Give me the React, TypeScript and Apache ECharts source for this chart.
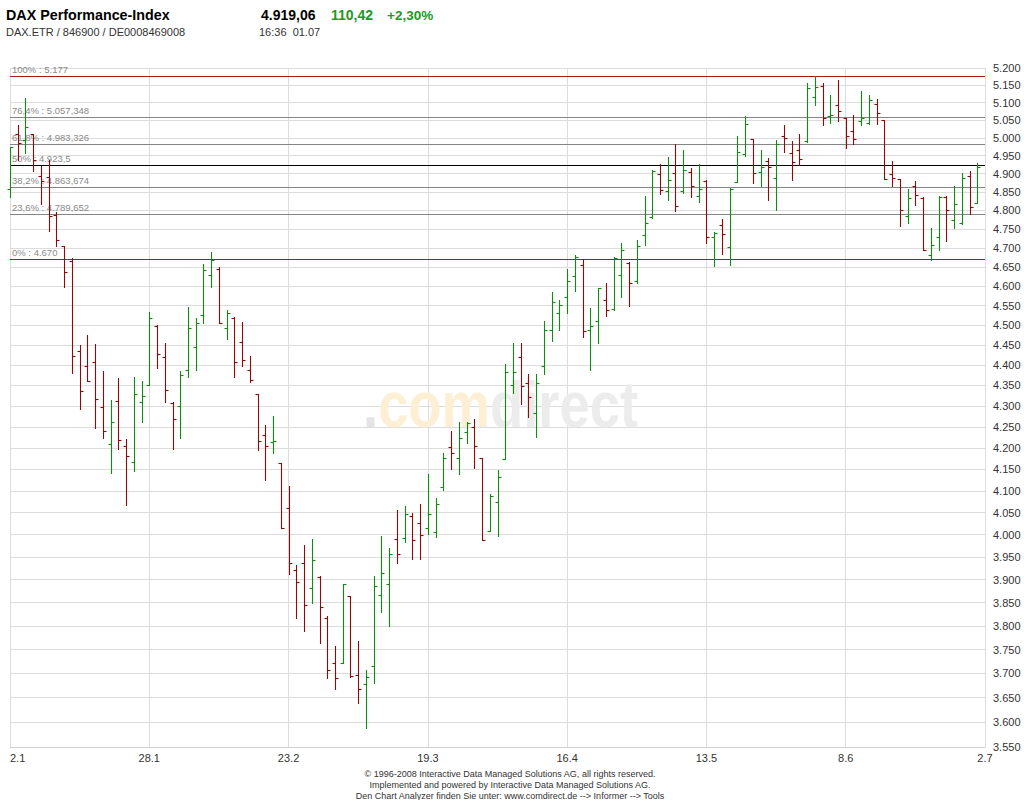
import React, { useEffect, useRef } from "react";
import * as echarts from "echarts";

const FONT = "Arial, 'Liberation Sans', sans-serif";
const GREEN = "#138a13";
const RED = "#8b0a0a";

// Xetra trading days 02.01.2009 - 02.07.2009 (holidays: Karfreitag, Ostermontag, 1. Mai)
const holidays = ["10.4", "13.4", "1.5"];
const dates: string[] = [];
for (let d = new Date(2009, 0, 2); d <= new Date(2009, 6, 2); d.setDate(d.getDate() + 1)) {
  const wd = d.getDay();
  const key = `${d.getDate()}.${d.getMonth() + 1}`;
  if (wd === 0 || wd === 6 || holidays.includes(key)) continue;
  dates.push(key);
}

// daily OHLC (last trading day 02.07 has no bar)
const opens = [
  4858, 5010, 4994, 5010, 4895, 4891, 4788, 4705, 4665, 4436,
  4397, 4409, 4298, 4210, 4313, 4205, 4167, 4310, 4350, 4497,
  4421, 4308, 4301, 4389, 4444, 4526, 4630, 4644, 4492, 4518,
  4458, 4387, 4329, 4231, 4213, 4165, 4060, 3922, 3937, 3882,
  3907, 3817, 3722, 3722, 3865, 3697, 3678, 3715, 3867, 3891,
  3990, 3992, 4042, 4026, 4014, 4007, 4108, 4203, 4176, 4238,
  4250, 4176, 4008, 4074, 4173, 4352, 4421, 4357, 4284, 4397,
  4488, 4530, 4571, 4627, 4656, 4488, 4510, 4565, 4540, 4628,
  4660, 4612, 4733, 4783, 4898, 4853, 4902, 4853, 4906, 4838,
  4880, 4730, 4761, 4701, 4876, 4954, 4996, 4905, 4935, 4889,
  5005, 4957, 4965, 4990, 5117, 5149, 5062, 5093, 5056, 5018,
  5047, 5041, 5097, 5050, 4900, 4886, 4785, 4866, 4834, 4682,
  4730, 4837, 4775, 4767, 4894, 4820,
];
const highs = [
  4975, 5037, 5112, 5012, 4920, 4937, 4795, 4705, 4672, 4450,
  4475, 4452, 4385, 4315, 4368, 4220, 4370, 4360, 4533, 4500,
  4455, 4311, 4385, 4547, 4518, 4657, 4689, 4649, 4538, 4520,
  4507, 4423, 4330, 4254, 4276, 4165, 4111, 3933, 3978, 3990,
  3909, 3821, 3757, 3891, 3865, 3769, 3707, 3909, 3996, 3970,
  4055, 4065, 4050, 4069, 4139, 4083, 4188, 4240, 4261, 4262,
  4270, 4176, 4092, 4148, 4404, 4454, 4456, 4378, 4378, 4511,
  4586, 4563, 4644, 4682, 4670, 4543, 4594, 4607, 4677, 4714,
  4662, 4722, 4838, 4910, 4927, 4945, 4982, 4966, 4917, 4928,
  4882, 4743, 4778, 4860, 5006, 5062, 4996, 4966, 4943, 4994,
  5037, 4990, 5011, 5156, 5177, 5156, 5122, 5165, 5056, 5065,
  5134, 5122, 5111, 5050, 4935, 4886, 4857, 4880, 4836, 4752,
  4840, 4838, 4866, 4901, 4907, 4929,
];
const lows = [
  4837, 4937, 4958, 4908, 4818, 4744, 4705, 4597, 4380, 4294,
  4360, 4248, 4224, 4141, 4197, 4068, 4145, 4262, 4350, 4393,
  4311, 4197, 4224, 4371, 4387, 4505, 4597, 4505, 4464, 4372,
  4397, 4358, 4195, 4124, 4188, 4015, 3912, 3816, 3790, 3849,
  3764, 3691, 3667, 3721, 3693, 3639, 3588, 3681, 3829, 3800,
  3937, 3983, 3946, 3946, 4002, 3994, 4101, 4150, 4138, 4211,
  4153, 3989, 4008, 3997, 4173, 4332, 4305, 4274, 4227, 4377,
  4461, 4487, 4531, 4588, 4469, 4389, 4456, 4523, 4538, 4571,
  4548, 4608, 4707, 4780, 4844, 4829, 4799, 4848, 4835, 4824,
  4714, 4651, 4684, 4654, 4876, 4950, 4874, 4867, 4828, 4801,
  4961, 4883, 4924, 4988, 5093, 5035, 5043, 5046, 4970, 4983,
  5037, 5039, 5040, 4885, 4866, 4759, 4767, 4814, 4693, 4669,
  4695, 4719, 4752, 4763, 4789, 4820,
];
const closes = [
  4973, 4984, 5030, 4937, 4880, 4784, 4720, 4637, 4423, 4337,
  4362, 4316, 4241, 4261, 4219, 4180, 4329, 4325, 4518, 4428,
  4339, 4270, 4376, 4492, 4505, 4643, 4668, 4505, 4530, 4407,
  4413, 4364, 4217, 4204, 4217, 4015, 3937, 3896, 3846, 3943,
  3841, 3708, 3690, 3891, 3694, 3667, 3693, 3887, 3915, 3957,
  3956, 4046, 3989, 3999, 4046, 4070, 4177, 4188, 4223, 4259,
  4205, 3989, 4087, 4133, 4383, 4384, 4349, 4322, 4356, 4489,
  4560, 4551, 4613, 4677, 4485, 4499, 4594, 4538, 4673, 4695,
  4608, 4704, 4765, 4907, 4855, 4882, 4811, 4910, 4867, 4858,
  4728, 4739, 4737, 4858, 4959, 5039, 4902, 4918, 4918, 4982,
  4998, 4932, 4941, 5142, 5145, 5057, 5065, 5075, 5005, 4997,
  5055, 5108, 5069, 4885, 4888, 4800, 4834, 4843, 4694, 4708,
  4836, 4800, 4817, 4887, 4809, 4919,
];

// price axis (logarithmic), labels every 50 points
const yMin = 3550;
const yMax = 5200;
const yTicks: number[] = [];
for (let v = yMin; v <= yMax; v += 50) yTicks.push(v);

// Fibonacci retracement levels
const fibValues = [5177, 5057.348, 4983.326, 4923.5, 4863.674, 4789.652, 4670];
const fibLabels = [
  "100% : 5.177",
  "76,4% : 5.057,348",
  "61,8% : 4.983,326",
  "50% : 4.923,5",
  "38,2% : 4.863,674",
  "23,6% : 4.789,652",
  "0% : 4.670",
];
const fibColors = ["#b01818", "#858585", "#858585", "#000000", "#858585", "#858585", "#b01818"];

const thousands = (n: number) => String(n).replace(/\B(?=(\d{3})+(?!\d))/g, ".");

const App = () => {
  const chartRef = useRef<HTMLDivElement>(null);

  useEffect(() => {
    if (!chartRef.current) return undefined;
    const chart = echarts.init(chartRef.current, undefined, { renderer: "svg" });

    const data = opens.map((o, i) => [
      i,
      Math.log(o),
      Math.log(highs[i]),
      Math.log(lows[i]),
      Math.log(closes[i]),
    ]);
    const fibData = fibValues.map((v, k) => [0, Math.log(v), k]);
    const lnTicks = yTicks.map((v) => Math.log(v));

    const options: any = {
      animation: false,
      backgroundColor: "#ffffff",
      textStyle: { fontFamily: FONT },
      grid: { left: 10, right: 39, top: 68, bottom: 53, outerBoundsMode: "none" },
      xAxis: {
        type: "category",
        data: dates,
        boundaryGap: false,
        axisLine: { lineStyle: { color: "#cfcfcf" } },
        axisTick: { show: false },
        axisLabel: {
          interval: 17,
          color: "#333",
          fontSize: 11,
          fontFamily: FONT,
          margin: 5,
          alignMinLabel: "left",
        },
        splitLine: { show: true, interval: 17, lineStyle: { color: "#dcdcdc", width: 1 } },
      },
      yAxis: {
        type: "value",
        position: "right",
        min: Math.log(yMin),
        max: Math.log(yMax),
        axisLine: { show: false },
        axisTick: { show: false, customValues: lnTicks },
        axisLabel: {
          customValues: lnTicks,
          formatter: (v: number) => thousands(Math.round(Math.exp(v))),
          color: "#333",
          fontSize: 11,
          fontFamily: FONT,
          margin: 8,
        },
        splitLine: { show: true, lineStyle: { color: "#dcdcdc", width: 1 } },
      },
      series: [
        {
          // Fibonacci retracement lines with their labels
          type: "custom",
          data: fibData,
          encode: { x: 0, y: 1 },
          z: 2,
          silent: true,
          renderItem: (params: any, api: any) => {
            const k = api.value(2);
            const cs = params.coordSys;
            const y = Math.round(api.coord([0, api.value(1)])[1]) + 0.5;
            return {
              type: "group",
              children: [
                {
                  type: "line",
                  shape: { x1: cs.x, y1: y, x2: cs.x + cs.width, y2: y },
                  style: { stroke: fibColors[k], lineWidth: 1 },
                },
                {
                  type: "text",
                  x: cs.x + 2,
                  y: y - 2,
                  style: {
                    text: fibLabels[k],
                    fill: "#8a8a8a",
                    font: `9.5px ${FONT}`,
                    textVerticalAlign: "bottom",
                  },
                },
              ],
            };
          },
        },
        {
          type: "custom",
          data,
          encode: { x: 0, y: [1, 2, 3, 4] },
          z: 3,
          renderItem: (_params: any, api: any) => {
            const i = api.value(0);
            const o = api.coord([i, api.value(1)]);
            const h = api.coord([i, api.value(2)]);
            const l = api.coord([i, api.value(3)]);
            const c = api.coord([i, api.value(4)]);
            const color = api.value(4) >= api.value(1) ? GREEN : RED;
            const x = Math.round(h[0]) + 0.5;
            const yo = Math.round(o[1]) + 0.5;
            const yc = Math.round(c[1]) + 0.5;
            const style = { stroke: color, lineWidth: 1.1 };
            return {
              type: "group",
              children: [
                { type: "line", shape: { x1: x, y1: Math.round(h[1]), x2: x, y2: Math.round(l[1]) + 1 }, style },
                { type: "line", shape: { x1: x - 3, y1: yo, x2: x, y2: yo }, style },
                { type: "line", shape: { x1: x, y1: yc, x2: x + 3, y2: yc }, style },
              ],
            };
          },
        },
      ],
      graphic: [
        // watermark behind the bars
        {
          type: "group",
          x: 363,
          y: 405,
          scaleX: 0.85,
          z: 1,
          silent: true,
          children: [
            { type: "text", x: 0, y: 0, z: 1, style: { text: ".", font: `bold 64px ${FONT}`, fill: "#e4e4e4", textVerticalAlign: "middle" } },
            { type: "text", x: 17.8, y: 0, z: 1, style: { text: "com", font: `bold 64px ${FONT}`, fill: "#fcefd3", textVerticalAlign: "middle" } },
            { type: "text", x: 149.4, y: 0, z: 1, style: { text: "direct", font: `bold 64px ${FONT}`, fill: "#ececec", textVerticalAlign: "middle" } },
          ],
        },
        // header
        { type: "text", x: 6, y: 15, style: { text: "DAX Performance-Index", font: `bold 14.3px ${FONT}`, fill: "#000", textVerticalAlign: "middle" } },
        { type: "text", x: 261, y: 15, style: { text: "4.919,06", font: `bold 14px ${FONT}`, fill: "#000", textVerticalAlign: "middle" } },
        { type: "text", x: 331, y: 15, style: { text: "110,42", font: `bold 14px ${FONT}`, fill: "#229922", textVerticalAlign: "middle" } },
        { type: "text", x: 387, y: 15, style: { text: "+2,30%", font: `bold 13.5px ${FONT}`, fill: "#229922", textVerticalAlign: "middle" } },
        { type: "text", x: 6, y: 31.5, style: { text: "DAX.ETR / 846900 / DE0008469008", font: `11px ${FONT}`, fill: "#333", textVerticalAlign: "middle" } },
        { type: "text", x: 259, y: 31.5, style: { text: "16:36  01.07", font: `11px ${FONT}`, fill: "#333", textVerticalAlign: "middle" } },
        // footer
        { type: "text", x: 510, y: 774, style: { text: "© 1996-2008 Interactive Data Managed Solutions AG, all rights reserved.", font: `9px ${FONT}`, fill: "#333", textAlign: "center", textVerticalAlign: "middle" } },
        { type: "text", x: 510, y: 785, style: { text: "Implemented and powered by Interactive Data Managed Solutions AG.", font: `9px ${FONT}`, fill: "#333", textAlign: "center", textVerticalAlign: "middle" } },
        { type: "text", x: 510, y: 796, style: { text: "Den Chart Analyzer finden Sie unter: www.comdirect.de --> Informer --> Tools", font: `9px ${FONT}`, fill: "#333", textAlign: "center", textVerticalAlign: "middle" } },
      ],
    };

    chart.setOption(options);
    return () => {
      chart.dispose();
    };
  }, []);

  return (
    <div
      ref={chartRef}
      style={{ position: "absolute", left: 0, top: 0, width: "1024px", height: "800px", background: "#fff" }}
    />
  );
};

export default App;
